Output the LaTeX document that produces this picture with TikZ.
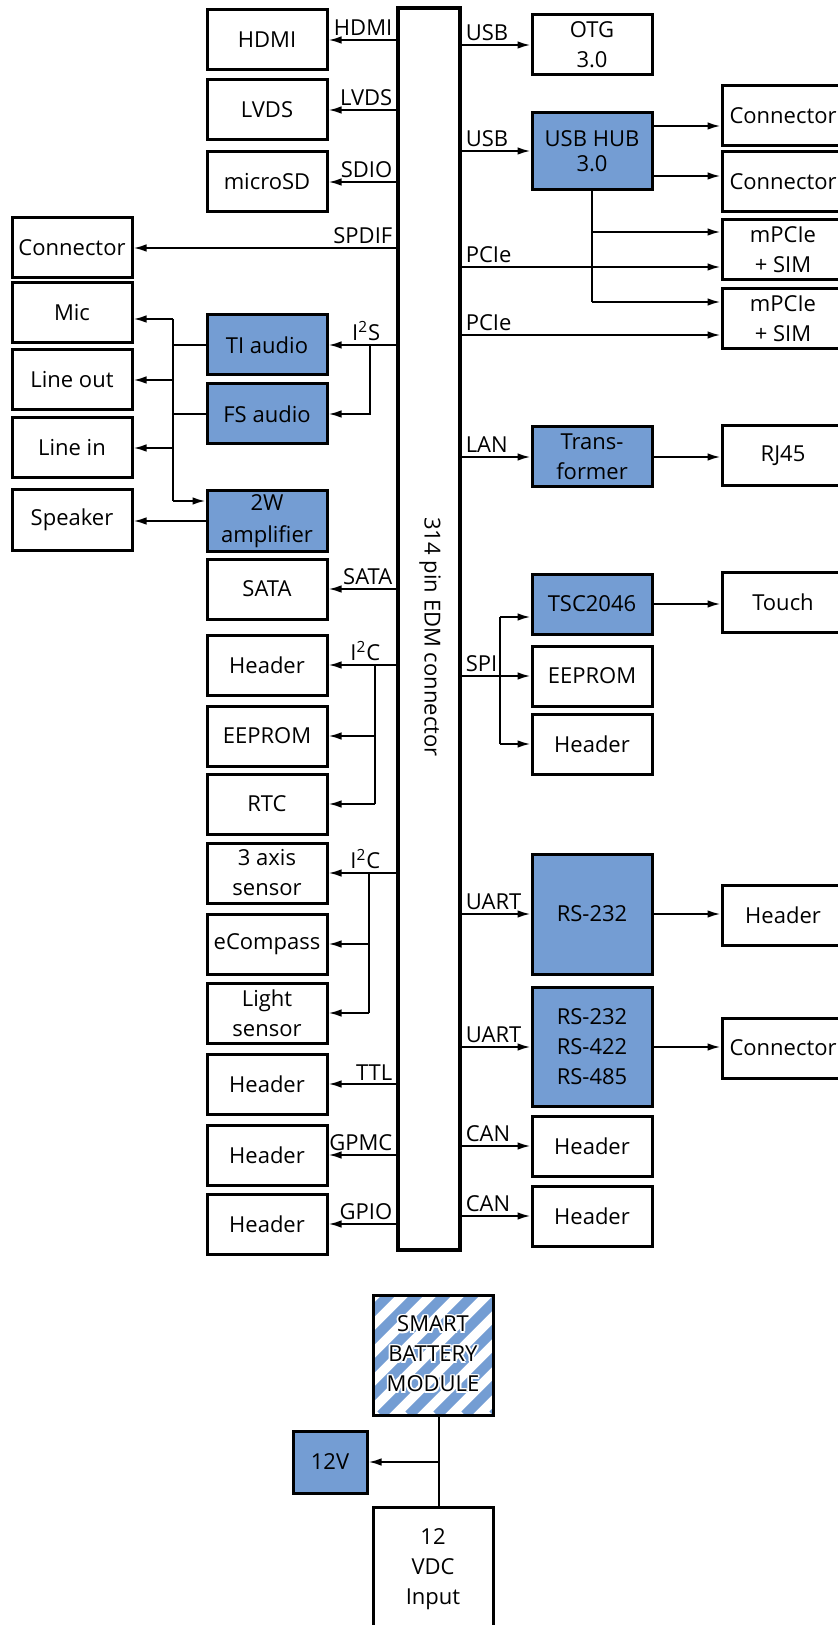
\documentclass[tikz,border=0pt]{standalone}
\usepackage{fontspec}
\setmainfont{Open Sans}
\usepackage{contour}
\contourlength{0.9pt}
\contournumber{8}
\usetikzlibrary{arrows.meta}
\definecolor{chipblue}{RGB}{116,157,211}
\newcommand{\bxfont}{\fontsize{11}{15}\selectfont}
\newcommand{\halo}[1]{\contour{white}{#1}}

\begin{document}
\begin{tikzpicture}[x=0.5pt, y=-0.5pt,
    box/.style={draw, line width=1.5pt, minimum width=60pt, minimum height=30pt,
                inner sep=1pt, align=center, font=\bxfont},
    chip/.style={box, fill=chipblue},
    rbox/.style={box, minimum width=61pt},
    arr/.style={-{Latex[length=6.5pt,width=3.8pt]}, line width=1pt},
    wire/.style={line width=1pt},
    lab/.style={inner sep=1.5pt, font=\bxfont},
    labl/.style={lab, pos=0, anchor=south east},
    labr/.style={lab, pos=0, anchor=south west}]
\useasboundingbox (0,0) rectangle (838,1625);

%%%%%%%%%%%%%%%%% EDM connector
\node[draw, line width=1.75pt, minimum width=31pt, minimum height=621pt] (edm) at (429,629) {};
\node[font=\bxfont, rotate=-90] (edmlab) at (430,637) {314 pin EDM connector};

%%%%%%%%%%%%%%%%% left side
\node[box] (hdmi) at (267,40) {HDMI};
\node[box] (lvds) at (267,110) {LVDS};
\node[box] (usd) at (267,182) {microSD};
\node[box] (spdif) at (72,248) {Connector};
\node[box] (mic) at (72,313) {Mic};
\node[box] (lout) at (72,380) {Line out};
\node[box] (lin) at (72,448) {Line in};
\node[box] (spk) at (72,520) {Speaker};
\node[chip] (tia) at (267,345) {TI audio};
\node[chip] (fsa) at (267,414) {FS audio};
\node[chip] (amp) at (267,521) {2W\\[1pt]amplifier};
\node[box] (sata) at (267,589) {SATA};
\node[box] (hdri) at (267,665) {Header};
\node[box] (eep) at (267,736) {EEPROM};
\node[box] (rtc) at (267,804) {RTC};
\node[box] (axis) at (267,873) {3 axis\\sensor};
\node[box] (ecmp) at (267,944) {eCompass};
\node[box] (light) at (267,1013) {Light\\sensor};
\node[box] (httl) at (267,1084) {Header};
\node[box] (hgpmc) at (267,1155) {Header};
\node[box] (hgpio) at (267,1224) {Header};

\draw[arr] (edm.west |- hdmi) -- node[labl]{HDMI} (hdmi.east);
\draw[arr] (edm.west |- lvds) -- node[labl]{LVDS} (lvds.east);
\draw[arr] (edm.west |- usd) -- node[labl]{SDIO} (usd.east);
\draw[arr] (edm.west |- spdif) -- node[labl]{SPDIF} (spdif.east);
\draw[arr] (edm.west |- sata) -- node[labl]{SATA} (sata.east);
\draw[arr] (edm.west |- httl) -- node[labl]{TTL} (httl.east);
\draw[arr] (edm.west |- hgpmc) -- node[labl]{GPMC} (hgpmc.east);
\draw[arr] (edm.west |- hgpio) -- node[labl]{GPIO} (hgpio.east);

% audio
\coordinate (i2s) at (370,345);
\draw[arr] (edm.west |- tia) -- node[labl, xshift=-6pt]{I\textsuperscript{2}S} (tia.east);
\draw[arr] (i2s) |- (fsa.east);
\coordinate (au1) at (173,319);
\coordinate (au4) at (173,501);
\draw[wire] (au1) -- (au4);
\draw[wire] (tia.west) -- (tia.west -| au1);
\draw[wire] (fsa.west) -- (fsa.west -| au1);
\draw[arr] (au1) -- (au1 -| mic.east);
\draw[arr] (au1 |- lout) -- (lout.east);
\draw[arr] (au1 |- lin) -- (lin.east);
\draw[arr] (au4) -- (au4 -| amp.west);
\draw[arr] (amp.west) -- (amp.west -| spk.east);

% I2C buses
\coordinate (i2ca) at (375,665);
\draw[arr] (edm.west |- hdri) -- node[labl, xshift=-6pt]{I\textsuperscript{2}C} (hdri.east);
\draw[wire] (i2ca) -- (i2ca |- rtc);
\draw[arr] (i2ca |- eep) -- (eep.east);
\draw[arr] (i2ca |- rtc) -- (rtc.east);
\coordinate (i2cb) at (369,873);
\draw[arr] (edm.west |- axis) -- node[labl, xshift=-6pt]{I\textsuperscript{2}C} (axis.east);
\draw[wire] (i2cb) -- (i2cb |- light);
\draw[arr] (i2cb |- ecmp) -- (ecmp.east);
\draw[arr] (i2cb |- light) -- (light.east);

%%%%%%%%%%%%%%%%% right side
\node[box] (otg) at (592,45) {OTG\\3.0};
\node[chip, minimum height=38.5pt] (hub) at (592,151) {USB HUB\\[-2.5pt]3.0};
\node[rbox] (con1) at (783,116) {Connector};
\node[rbox] (con2) at (783,182) {Connector};
\node[rbox] (mpc1) at (783,250) {mPCIe\\+ SIM};
\node[rbox] (mpc2) at (783,319) {mPCIe\\+ SIM};
\node[chip] (trf) at (592,457) {Trans-\\former};
\node[rbox] (rj45) at (783,456) {RJ45};
\node[chip] (tsc) at (592,604) {TSC2046};
\node[rbox] (touch) at (783,602) {Touch};
\node[box] (eep2) at (592,676) {EEPROM};
\node[box] (hspi) at (592,744) {Header};
\node[chip, minimum height=60pt] (rs1) at (592,914) {RS-232};
\node[rbox] (hrs) at (783,915) {Header};
\node[chip, minimum height=59.5pt] (rs2) at (592,1047) {RS-232\\RS-422\\RS-485};
\node[rbox] (crs) at (783,1048) {Connector};
\node[box] (can1) at (592,1146) {Header};
\node[box] (can2) at (592,1216) {Header};

\draw[arr] (edm.east |- otg) -- node[labr]{USB} (otg.west);
\draw[arr] (edm.east |- hub) -- node[labr]{USB} (hub.west);
\coordinate (hu1) at ([yshift=12.5pt]hub.east);
\coordinate (hu2) at ([yshift=-12.5pt]hub.east);
\draw[arr] (hu1) -- (hu1 -| con1.west);
\draw[arr] (hu2) -- (hu2 -| con2.west);
\coordinate (hd1) at (592,232);
\coordinate (hd2) at (592,302);
\draw[wire] (hub.south) -- (hd2);
\draw[arr] (hd1) -- (hd1 -| mpc1.west);
\draw[arr] (hd2) -- (hd2 -| mpc2.west);
\coordinate (pc1) at ([yshift=-8.5pt]mpc1.west);
\coordinate (pc2) at ([yshift=-8pt]mpc2.west);
\draw[arr] (edm.east |- pc1) -- node[labr]{PCIe} (pc1);
\draw[arr] (edm.east |- pc2) -- node[labr]{PCIe} (pc2);

\draw[arr] (edm.east |- trf) -- node[labr]{LAN} (trf.west);
\draw[arr] (trf.east) -- (trf.east -| rj45.west);

% SPI
\coordinate (spi1) at (500,617);
\coordinate (spi2) at (500,744);
\draw[arr] (edm.east |- eep2) -- node[labr]{SPI} (eep2.west);
\draw[wire] (spi1) -- (spi2);
\draw[arr] (spi1) -- (spi1 -| tsc.west);
\draw[arr] (spi2) -- (hspi.west);
\draw[arr] (tsc.east) -- (tsc.east -| touch.west);

\draw[arr] (edm.east |- rs1) -- node[labr]{UART} (rs1.west);
\draw[arr] (rs1.east) -- (rs1.east -| hrs.west);
\draw[arr] (edm.east |- rs2) -- node[labr]{UART} (rs2.west);
\draw[arr] (rs2.east) -- (rs2.east -| crs.west);
\draw[arr] (edm.east |- can1) -- node[labr]{CAN} (can1.west);
\draw[arr] (edm.east |- can2) -- node[labr]{CAN} (can2.west);

%%%%%%%%%%%%%%%%% power
\node[box, minimum height=60pt, path picture={
    \foreach \s in {0,...,10}
      \draw[chipblue, line width=5pt]
        ([xshift=\s*14pt-66pt]path picture bounding box.south west) -- ++(90pt,90pt);
  }] (smb) at (433,1355) {\halo{SMART}\\\halo{BATTERY}\\\halo{MODULE}};
\node[chip, minimum width=37pt, minimum height=31pt] (v12) at (330,1462) {12V};
\node[box, minimum height=62pt] (vdc) at (433,1569) {12\\VDC\\Input};
\coordinate (pj) at (439,1462);
\draw[wire] ([xshift=3pt]smb.south) -- ([xshift=3pt]vdc.north);
\draw[arr] (pj) -- (v12.east);

\end{tikzpicture}
\end{document}
